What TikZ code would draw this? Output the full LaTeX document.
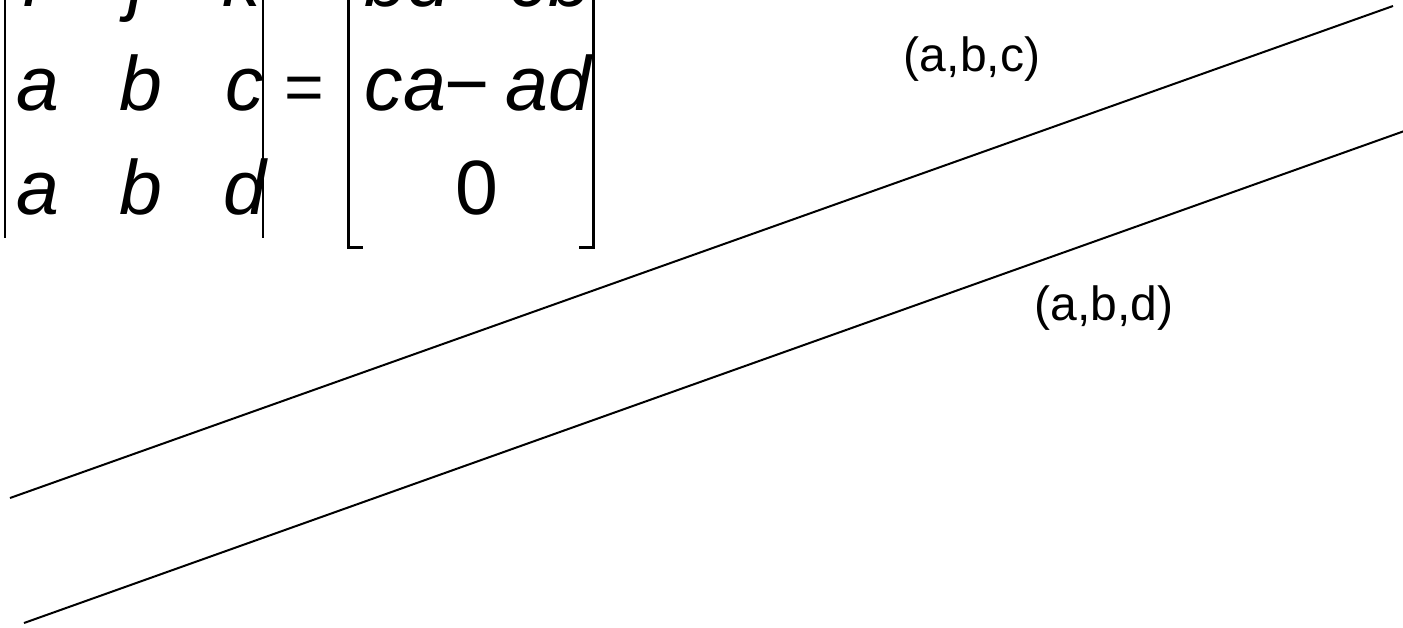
\documentclass[tikz,border=0pt]{standalone}
\usepackage{fontspec}
\setmainfont{Liberation Sans}
\begin{document}
\begin{tikzpicture}[x=1pt,y=-1pt,
  ent/.style={inner sep=0pt,anchor=base,font=\fontsize{77}{90}\selectfont\itshape},
  rom/.style={inner sep=0pt,anchor=base,font=\fontsize{77}{90}\selectfont},
  lab/.style={inner sep=0pt,font=\fontsize{48}{57}\selectfont},
  bar/.style={line width=2.8pt},
  ln/.style={line width=2pt}]
\useasboundingbox (0,0) rectangle (1403,627);
\clip (0,0) rectangle (1403,627);
% determinant entries
\node[ent] (i) at (32,6) {i};
\node[ent] (j) at (137,6) {j};
\node[ent] (k) at (242,6) {k};
\node[ent] (a1) at (38,110) {a};
\node[ent] (b1) at (141,110) {b};
\node[ent] (c1) at (245,110) {c};
\node[ent] (a2) at (38,214) {a};
\node[ent] (b2) at (141,214) {b};
\node[ent] (d2) at (245,214) {d};
% determinant bars
\coordinate (lbt) at (5,-10);
\coordinate (lbb) at (5,238);
\coordinate (rbt) at (263,-10);
\coordinate (rbb) at (263,238);
\draw[bar] (lbt) -- (lbb);
\draw[bar] (rbt) -- (rbb);
% equals
\node[rom,font=\fontsize{68}{80}\selectfont] (eq) at (304,110) {=};
% result vector
\node[ent] (r1) at (478,6) {bd\kern-3pt\textminus\kern-4pt\ cb};
\node[ent] (r2) at (478,110) {ca\kern-3pt\textminus\kern-4pt\ ad};
\node[rom] (r3) at (477,214) {0};
% brackets
\coordinate (lkt) at (348,-10);
\coordinate (lkb) at (348,247);
\coordinate (lks) at (363,247);
\coordinate (rkt) at (593,-10);
\coordinate (rkb) at (593,247);
\coordinate (rks) at (579,247);
\draw[bar,line width=3pt] (lkt) -- (lkb) -- (lks);
\draw[bar,line width=3pt] (rkt) -- (rkb) -- (rks);
% planes
\coordinate (p1a) at (10,498);
\coordinate (p1b) at (1393,6);
\coordinate (p2a) at (24,623);
\coordinate (p2b) at (1410,129);
\draw[ln] (p1a) -- (p1b);
\draw[ln] (p2a) -- (p2b);
\node[lab] (labc) at (972,59) {(a,b,c)};
\node[lab] (labd) at (1104,308) {(a,b,d)};
\end{tikzpicture}
\end{document}
